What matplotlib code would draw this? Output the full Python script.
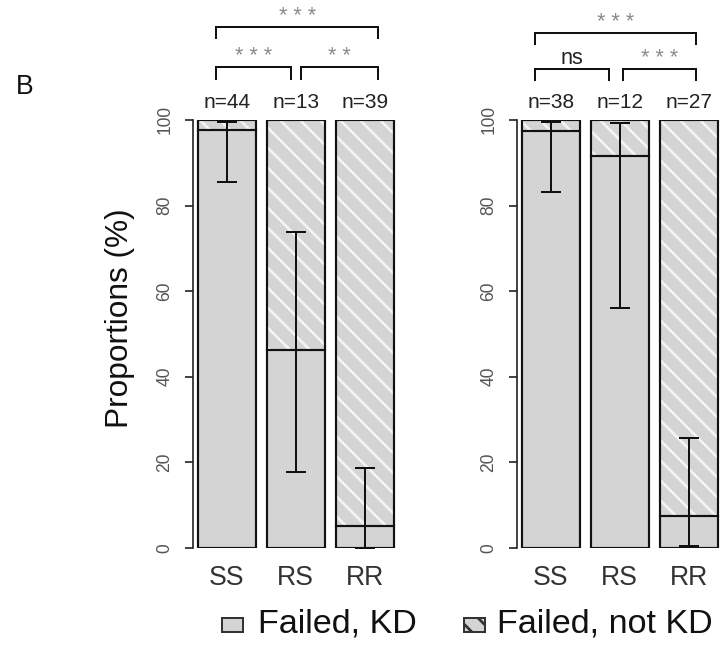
import matplotlib
matplotlib.use("Agg")
import matplotlib.pyplot as plt
from matplotlib.patches import Rectangle

plt.rcParams['font.family'] = ['Liberation Sans', 'DejaVu Sans']
plt.rcParams['hatch.linewidth'] = 1.6

# ---------------- data ----------------
groups = ['SS', 'RS', 'RR']

left_n = [44, 13, 39]
left_kd = [97.7, 46.2, 5.1]
left_ci_low = [85.5, 17.7, 0.0]
left_ci_high = [99.6, 73.9, 18.8]

right_n = [38, 12, 27]
right_kd = [97.4, 91.7, 7.5]
right_ci_low = [83.2, 56.0, 0.5]
right_ci_high = [99.6, 99.3, 25.7]

# significance brackets: (x_start, x_end, label, level)
left_sig = [(0.52, 1.82, '***', 1), (1.99, 3.33, '**', 1), (0.52, 3.33, '***', 2)]
right_sig = [(0.42, 1.71, 'ns', 1), (1.95, 3.23, '***', 1), (0.42, 3.23, '***', 2)]

legend_labels = ['Failed, KD', 'Failed, not KD']
ylabel = 'Proportions (%)'
panel_letter = 'B'

# ---------------- style ----------------
W, H = 722, 645
DPI = 120
KD_COLOR = '#d4d4d4'
fig = plt.figure(figsize=(W / DPI, H / DPI), dpi=DPI)

PPU = 57.5            # pixels per bar unit
XLIM = (0.113, 3.70)
Y0_PX, Y100_PX = 548, 120
positions = [0.7, 1.9, 3.1]


def make_axes(left_px):
    width_px = (XLIM[1] - XLIM[0]) * PPU
    ax = fig.add_axes([left_px / W, 1 - Y0_PX / H, width_px / W, (Y0_PX - Y100_PX) / H])
    ax.set_xlim(*XLIM)
    ax.set_ylim(0, 100)
    for s in ['top', 'right', 'bottom']:
        ax.spines[s].set_visible(False)
    ax.spines['left'].set_linewidth(1.0)
    ax.spines['left'].set_color('#222222')
    ax.set_yticks([0, 20, 40, 60, 80, 100])
    ax.tick_params(axis='y', length=4.8, width=1.0, pad=7, labelsize=10.5,
                   labelcolor='#555555', color='#222222', labelrotation=90)
    for lab in ax.get_yticklabels():
        lab.set_va('center')
    ax.set_xticks(positions)
    ax.set_xticklabels(groups)
    ax.tick_params(axis='x', length=0, pad=10, labelsize=16, labelcolor='#333333')
    ax.patch.set_alpha(0)
    return ax


def draw_panel(ax, n, kd, lo, hi, sig, sig_y_px):
    for x, k, l, h, nn in zip(positions, kd, lo, hi, n):
        ax.bar(x, k, width=1.0, color=KD_COLOR, edgecolor='none', linewidth=0, zorder=1)
        ax.bar(x, 100 - k, bottom=k, width=1.0, color=KD_COLOR, edgecolor='#f4f4f4',
               hatch='\\\\', linewidth=0, zorder=1)
        ax.bar(x, 100, width=1.0, fill=False, edgecolor='#111111', linewidth=1.3, zorder=3)
        ax.plot([x - 0.5, x + 0.5], [k, k], color='#111111', lw=1.3, zorder=3)
        ax.errorbar(x, k, yerr=[[k - l], [h - k]], fmt='none', ecolor='#111111',
                    elinewidth=1.2, capsize=6, capthick=1.2, zorder=4, clip_on=False)
        ax.text(x, 101.9, f'n={nn}', ha='center', va='bottom', fontsize=12.5,
                color='#222222', clip_on=False)
    # brackets in pixel positions above the plot
    for x0, x1, lab, lev in sig:
        top_px, leg_px = sig_y_px[lev]
        yt = 100 + (Y100_PX - top_px) / (Y0_PX - Y100_PX) * 100
        yl = 100 + (Y100_PX - leg_px) / (Y0_PX - Y100_PX) * 100
        ax.plot([x0, x0, x1, x1], [yl, yt, yt, yl], color='#111111', lw=1.2,
                clip_on=False, solid_joinstyle='miter')
        if lab == 'ns':
            ax.text((x0 + x1) / 2, yt - 0.1, lab, ha='center', va='bottom',
                    fontsize=13, color='#222222', clip_on=False)
        else:
            ax.text((x0 + x1) / 2, yt + 0.1, ' '.join(lab), ha='center', va='bottom',
                    fontsize=13, color='#8a8a8a', clip_on=False)


axL = make_axes(193)
axR = make_axes(517)

draw_panel(axL, left_n, left_kd, left_ci_low, left_ci_high, left_sig,
           {1: (67, 79), 2: (27, 38)})
draw_panel(axR, right_n, right_kd, right_ci_low, right_ci_high, right_sig,
           {1: (69, 80), 2: (33, 44)})

fig.text(120 / W, 1 - 318 / H, ylabel, fontsize=19, rotation=90, ha='center',
         va='center', color='#111111')

# panel letter
fig.text(25 / W, 1 - 87 / H, panel_letter, fontsize=16, ha='center', va='center',
         color='#111111')

# legend (manual)
box_h = 14 / H
box_w = 21 / W
for bx, tx, lab, hatched in [(222, 258, legend_labels[0], False),
                             (464, 497, legend_labels[1], True)]:
    r = Rectangle((bx / W, 1 - 632 / H), box_w, box_h, transform=fig.transFigure,
                  facecolor=KD_COLOR, edgecolor='#333333', linewidth=1.2,
                  hatch='\\\\' if hatched else None)
    fig.patches.append(r)
    fig.text(tx / W, 1 - 624 / H, lab, fontsize=20.5, ha='left', va='center',
             color='#111111')

fig.savefig('out.png', dpi=DPI)
